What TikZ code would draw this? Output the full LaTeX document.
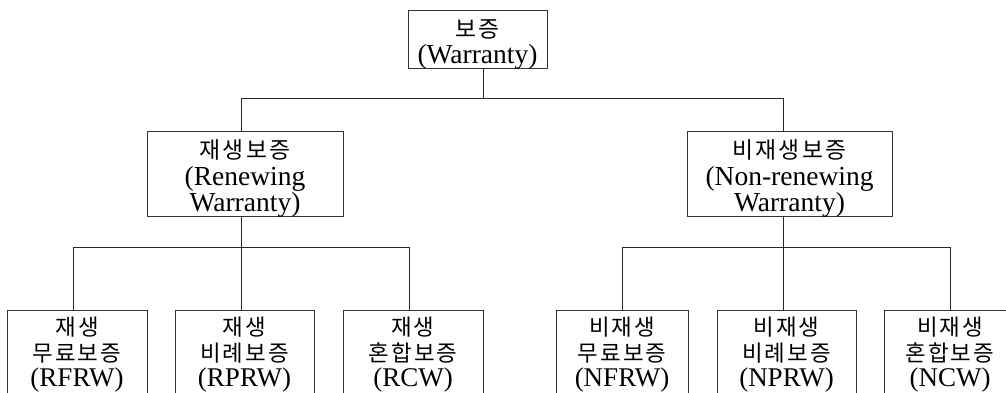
\documentclass[tikz,border=0pt]{standalone}
\usepackage{fontspec}
\setmainfont{Liberation Serif}
\newfontfamily\kr{Noto Sans CJK KR}[Scale=0.83,LetterSpace=9]
\newcommand\topstrut{\rule{0pt}{29pt}}
\begin{document}
\begin{tikzpicture}[x=1pt,y=-1pt,
  line width=0.9pt,
  box/.style={draw=black!80, fill=white, align=center, inner xsep=0pt,
    font=\fontsize{27.5}{26.5}\selectfont},
  top/.style={box, minimum height=58pt, inner ysep=-5pt},
  mid/.style={box, minimum height=85pt, inner ysep=-5pt},
  leaf/.style={box, anchor=north, inner ysep=7pt, minimum height=100pt,
    font=\fontsize{27}{25.5}\selectfont},
  conn/.style={draw=black!85, line width=0.9pt}]
\useasboundingbox (0,0) rectangle (1006,392);
\fill[white] (0,0) rectangle (1006,392);
\clip (0,0) rectangle (1006,392);

\node[top, minimum width=139pt] (w) at (477.5,39) {\topstrut{\kr 보증}\\(Warranty)};
\node[mid, minimum width=196pt] (ren) at (245,173.5) {\topstrut{\kr 재생보증}\\(Renewing\\Warranty)};
\node[mid, minimum width=205pt] (non) at (789.5,173.5) {\topstrut{\kr 비재생보증}\\(Non-renewing\\Warranty)};

\node[leaf, minimum width=140pt] (b1) at (77,310) {{\kr 재생}\\{\kr 무료보증}\\(RFRW)\\ };
\node[leaf, minimum width=139pt] (b2) at (244.5,310) {{\kr 재생}\\{\kr 비례보증}\\(RPRW)\\ };
\node[leaf, minimum width=140pt] (b3) at (413,310) {{\kr 재생}\\{\kr 혼합보증}\\(RCW)\\ };
\node[leaf, minimum width=132pt] (b4) at (622,310) {{\kr 비재생}\\{\kr 무료보증}\\(NFRW)\\ };
\node[leaf, minimum width=139pt] (b5) at (786.5,310) {{\kr 비재생}\\{\kr 비례보증}\\(NPRW)\\ };
\node[leaf, minimum width=132pt] (b6) at (950,310) {{\kr 비재생}\\{\kr 혼합보증}\\(NCW)\\ };

\coordinate (j1) at (483,99);
\draw[conn] ([xshift=5.5pt]w.south) -- (j1);
\draw[conn] ([xshift=-4pt]ren.north) -- ++(0,-32) -| ([xshift=-6.5pt]non.north);
\draw[conn] ([xshift=-4pt]ren.south) -- ([xshift=-3.5pt]b2.north);
\draw[conn] ([xshift=-4pt]b1.north) -- ++(0,-63) -| ([xshift=-4pt]b3.north);
\draw[conn] ([xshift=-6.5pt]non.south) -- ([xshift=-3.5pt]b5.north);
\draw[conn] (b4.north) -- ++(0,-63) -| (b6.north);
\end{tikzpicture}
\end{document}
